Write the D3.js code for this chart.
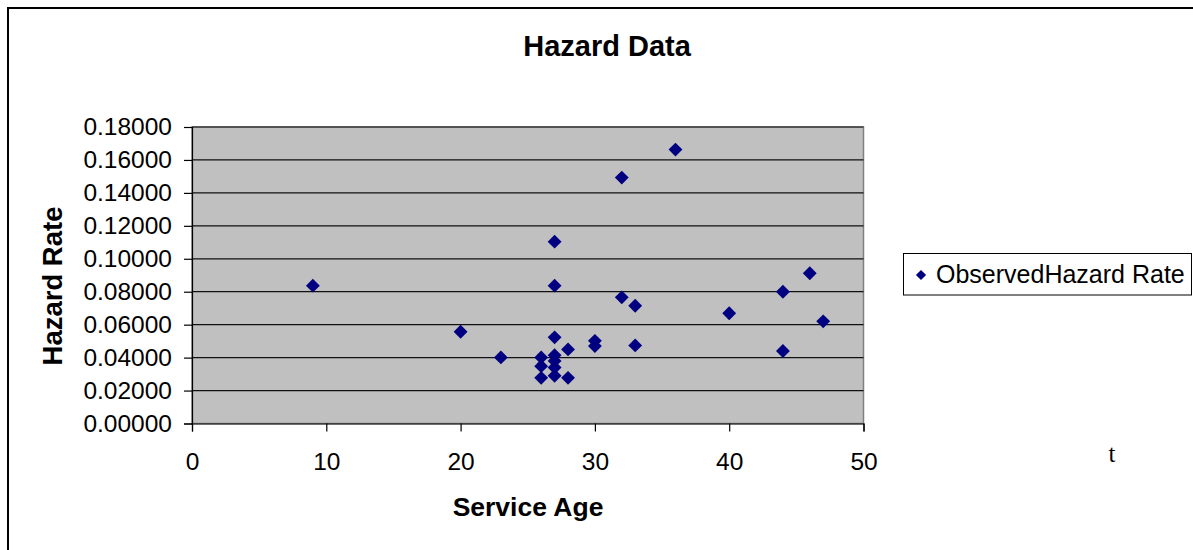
<!DOCTYPE html>
<html>
<head>
<meta charset="utf-8">
<script src="https://cdn.jsdelivr.net/npm/d3@7"></script>
<style>
    body { margin: 0; background: #fff; }
    svg text { font-family: "Liberation Sans", Arial, sans-serif; fill: #000; }
</style>
</head>
<body>
<div id="chart"></div>
<script>
// observed points
var serviceAge = [9, 20, 23, 26, 26, 26, 27, 27, 27, 27, 27, 27, 27, 28, 28, 30, 30, 32, 32, 33, 33, 36, 40, 44, 44, 46, 47];
var hazardRate = [0.0837, 0.0557, 0.0401, 0.0401, 0.0348, 0.0277, 0.1104, 0.0837, 0.0523, 0.0415, 0.0380, 0.0340, 0.0290,
    0.0450, 0.0277, 0.0502, 0.0470, 0.1493, 0.0766, 0.0715, 0.0474, 0.1663, 0.0669, 0.0800, 0.0440, 0.0912, 0.0620];

var xTicks = [0, 10, 20, 30, 40, 50];
var yTicks = [0, 0.02, 0.04, 0.06, 0.08, 0.10, 0.12, 0.14, 0.16, 0.18];
var seriesName = "ObservedHazard Rate";

var width = 1193, height = 550;
var plotLeft = 192, plotRight = 863.5, plotTop = 127, plotBottom = 423.5;

var svg = d3.select("#chart")
    .append("svg")
    .attr("width", width)
    .attr("height", height);

// chart border (only top/left visible in the crop)
svg.append("path")
    .attr("d", "M8," + height + "V8H" + width)
    .attr("fill", "none")
    .attr("stroke", "#000")
    .attr("stroke-width", 2);

var xScale = d3.scaleLinear().domain([0, 50]).range([plotLeft, plotRight]);
var yScale = d3.scaleLinear().domain([0, 0.18]).range([plotBottom, plotTop]);

// plot area
svg.append("rect")
    .attr("x", plotLeft).attr("y", plotTop)
    .attr("width", plotRight - plotLeft).attr("height", plotBottom - plotTop)
    .attr("fill", "#c0c0c0")
    .attr("stroke", "#808080")
    .attr("stroke-width", 1.5);

// gridlines
svg.append("g")
    .selectAll("line")
    .data(yTicks.slice(1))
    .enter().append("line")
    .attr("x1", plotLeft).attr("x2", plotRight)
    .attr("y1", d => yScale(d)).attr("y2", d => yScale(d))
    .attr("stroke", "#111")
    .attr("stroke-width", 1.2);

var yAxis = d3.axisLeft(yScale)
    .tickValues(yTicks)
    .tickFormat(d3.format(".5f"))
    .tickSize(8)
    .tickPadding(12);

var xAxis = d3.axisBottom(xScale)
    .tickValues(xTicks)
    .tickFormat(d3.format("d"))
    .tickSize(8)
    .tickPadding(21);

var yAxisPlot = svg.append("g")
    .attr("transform", "translate(" + plotLeft + ",0)")
    .call(yAxis);

var xAxisPlot = svg.append("g")
    .attr("transform", "translate(0," + plotBottom + ")")
    .call(xAxis);

[yAxisPlot, xAxisPlot].forEach(function (g) {
    g.selectAll("path, line").attr("stroke", "#000").attr("stroke-width", 1.2);
    g.selectAll("text").style("font-size", "24.5px").attr("fill", "#000");
});

// points
var diamond = d3.symbol().type(d3.symbolSquare).size(96);

svg.append("g")
    .selectAll("path")
    .data(serviceAge)
    .enter().append("path")
    .attr("d", diamond)
    .attr("transform", (d, i) => "translate(" + xScale(d) + "," + yScale(hazardRate[i]) + ") rotate(45)")
    .attr("fill", "#000080");

// titles
svg.append("text")
    .attr("x", 607).attr("y", 56)
    .attr("text-anchor", "middle")
    .style("font-size", "29px").style("font-weight", "bold")
    .text("Hazard Data");

svg.append("text")
    .attr("x", 528).attr("y", 516)
    .attr("text-anchor", "middle")
    .style("font-size", "26.5px").style("font-weight", "bold")
    .text("Service Age");

svg.append("text")
    .attr("transform", "translate(62,286) rotate(-90)")
    .attr("text-anchor", "middle")
    .style("font-size", "27.5px").style("font-weight", "bold")
    .text("Hazard Rate");

// stray "t" label
svg.append("text")
    .attr("x", 1112).attr("y", 462)
    .attr("text-anchor", "middle")
    .style("font-family", "'Liberation Serif', 'Times New Roman', serif")
    .style("font-size", "25px")
    .text("t");

// legend
var legend = svg.append("g");
legend.append("rect")
    .attr("x", 903.5).attr("y", 253.5)
    .attr("width", 288).attr("height", 41.5)
    .attr("fill", "#fff")
    .attr("stroke", "#000")
    .attr("stroke-width", 1);
legend.append("path")
    .attr("d", d3.symbol().type(d3.symbolSquare).size(52))
    .attr("transform", "translate(921,275) rotate(45)")
    .attr("fill", "#000080");
legend.append("text")
    .attr("x", 936).attr("y", 283)
    .style("font-size", "25px")
    .text(seriesName);
</script>
</body>
</html>
